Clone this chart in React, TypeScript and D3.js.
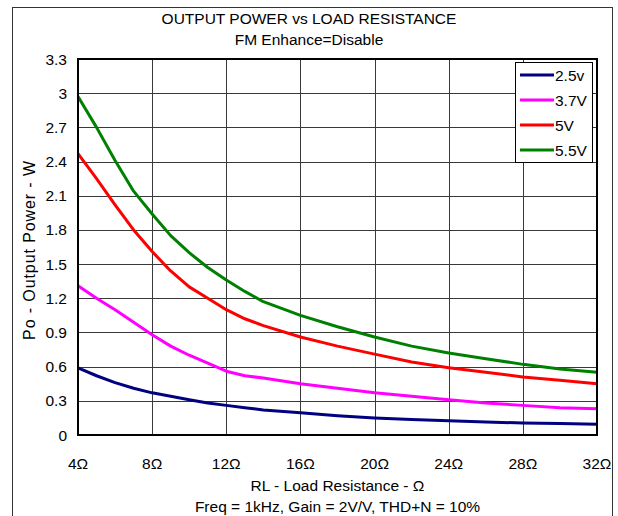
import React from "react";
import * as d3 from "d3";

const resistances = [4, 5, 6, 7, 8, 9, 10, 11, 12, 13, 14, 16, 18, 20, 22, 24, 26, 28, 30, 32];
const v25 = [0.59, 0.52, 0.46, 0.41, 0.37, 0.34, 0.31, 0.28, 0.26, 0.24, 0.22, 0.195, 0.17, 0.15, 0.135, 0.125, 0.115, 0.105, 0.1, 0.095];
const v37 = [1.31, 1.2, 1.1, 0.99, 0.88, 0.78, 0.7, 0.63, 0.56, 0.52, 0.5, 0.45, 0.41, 0.37, 0.34, 0.31, 0.28, 0.26, 0.24, 0.23];
const v50 = [2.47, 2.25, 2.02, 1.8, 1.61, 1.44, 1.3, 1.2, 1.1, 1.02, 0.96, 0.86, 0.78, 0.71, 0.64, 0.59, 0.55, 0.51, 0.48, 0.45];
const v55 = [2.97, 2.7, 2.41, 2.14, 1.94, 1.75, 1.6, 1.47, 1.36, 1.26, 1.17, 1.05, 0.95, 0.86, 0.78, 0.72, 0.67, 0.62, 0.58, 0.55];

const seriesNames = ["2.5v", "3.7V", "5V", "5.5V"];
const seriesColors = ["#000080", "#ff00ff", "#ff0000", "#008000"];
const seriesValues = [v25, v37, v50, v55];

const xTicks = [4, 8, 12, 16, 20, 24, 28, 32];
const yTicks = [0, 0.3, 0.6, 0.9, 1.2, 1.5, 1.8, 2.1, 2.4, 2.7, 3, 3.3];

const FONT = "'Liberation Sans', Arial, sans-serif";
const FS = 15.5;

export default function App() {
  const left = 78, right = 597, top = 59, bottom = 435;
  const x = d3.scaleLinear().domain([4, 32]).range([left, right]);
  const y = d3.scaleLinear().domain([0, 3.3]).range([bottom, top]);
  const line = d3
    .line<[number, number]>()
    .x((d) => x(d[0]))
    .y((d) => y(d[1]));

  const cx = (left + right) / 2;

  return (
    <svg
      width={618}
      height={516}
      style={{ position: "absolute", left: 0, top: 0, background: "#fff" }}
      fontFamily={FONT}
    >
      <rect x={0} y={0} width={618} height={516} fill="#fff" />
      <rect x={12.5} y={7.5} width={600} height={520} fill="none" stroke="#333" strokeWidth={1} />

      <text x={309} y={24} textAnchor="middle" fontSize={FS} fill="#000">
        OUTPUT POWER vs LOAD RESISTANCE
      </text>
      <text x={309} y={45} textAnchor="middle" fontSize={FS} fill="#000">
        FM Enhance=Disable
      </text>

      {/* grid */}
      {yTicks.map((t) => (
        <line key={"gy" + t} x1={left} x2={right} y1={Math.round(y(t)) + 0.5} y2={Math.round(y(t)) + 0.5} stroke="#3a3a3a" strokeWidth={1} />
      ))}
      {xTicks.map((t) => (
        <line key={"gx" + t} x1={Math.round(x(t)) + 0.5} x2={Math.round(x(t)) + 0.5} y1={top} y2={bottom} stroke="#3a3a3a" strokeWidth={1} />
      ))}

      {/* series */}
      {seriesValues.map((vals, i) => (
        <path
          key={seriesNames[i]}
          d={line(resistances.map((r, j) => [r, vals[j]]) as [number, number][]) || ""}
          fill="none"
          stroke={seriesColors[i]}
          strokeWidth={3}
          strokeLinejoin="round"
        />
      ))}

      {/* plot border */}
      <rect x={left} y={top} width={right - left} height={bottom - top} fill="none" stroke="#000" strokeWidth={2} />

      {/* y tick labels */}
      {yTicks.map((t) => (
        <text key={"yl" + t} x={67} y={y(t) + 5.5} textAnchor="end" fontSize={FS} fill="#000">
          {d3.format("~g")(t)}
        </text>
      ))}
      {/* x tick labels */}
      {xTicks.map((t) => (
        <text key={"xl" + t} x={x(t)} y={469} textAnchor="middle" fontSize={FS} fill="#000">
          {t + "Ω"}
        </text>
      ))}

      <text x={cx} y={491} textAnchor="middle" fontSize={FS} fill="#000">
        RL - Load Resistance - Ω
      </text>
      <text x={cx} y={512} textAnchor="middle" fontSize={FS} fill="#000">
        Freq = 1kHz, Gain = 2V/V, THD+N = 10%
      </text>
      <text
        transform={`translate(35, 250) rotate(-90)`}
        textAnchor="middle"
        fontSize={16}
        letterSpacing={0.9}
        fill="#000"
      >
        Po - Output Power - W
      </text>

      {/* legend */}
      <rect x={515.5} y={62.5} width={77} height={100} fill="#fff" stroke="#000" strokeWidth={1} />
      {seriesNames.map((n, i) => (
        <g key={"lg" + n}>
          <line x1={520} x2={554} y1={75 + i * 25} y2={75 + i * 25} stroke={seriesColors[i]} strokeWidth={3} />
          <text x={555} y={81 + i * 25} fontSize={FS} fill="#000">
            {n}
          </text>
        </g>
      ))}
    </svg>
  );
}
